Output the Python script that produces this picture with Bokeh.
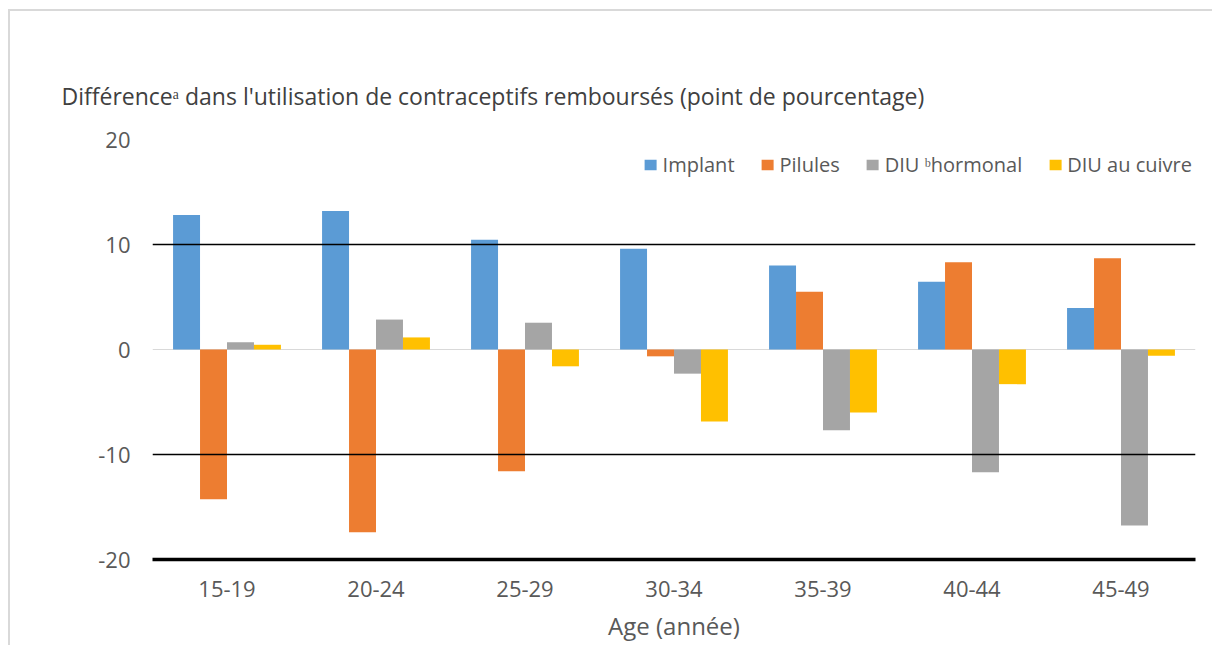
from bokeh.plotting import figure
from bokeh.models import FactorRange, Range1d, FixedTicker, Span, Legend, LegendItem, ColumnDataSource, Title
from bokeh.transform import dodge
from bokeh.embed import file_html
from bokeh.resources import INLINE

ages = ["15-19", "20-24", "25-29", "30-34", "35-39", "40-44", "45-49"]
implant = [12.8, 13.2, 10.45, 9.6, 8.0, 6.45, 3.95]
pilules = [-14.25, -17.4, -11.6, -0.65, 5.5, 8.3, 8.7]
diu_hormonal = [0.7, 2.85, 2.55, -2.3, -7.7, -11.7, -16.75]
diu_cuivre = [0.45, 1.15, -1.6, -6.85, -6.0, -3.3, -0.6]
series_names = ["Implant", "Pilules", "DIU \u1d47hormonal", "DIU au cuivre"]
y_ticks = [-20, -10, 0, 10, 20]
y_tick_labels = {-20: "-20", -10: "-10", 0: "0", 10: "10", 20: "20"}

title_text = "Diff\u00e9rence\u1d43 dans l'utilisation de contraceptifs rembours\u00e9s (point de pourcentage)"
x_label = "Age (ann\u00e9e)"

FONT = "Open Sans"
TXT = "#595959"
colors = ["#5B9BD5", "#ED7D31", "#A5A5A5", "#FFC000"]

src = ColumnDataSource(dict(age=ages, implant=implant, pilules=pilules,
                            diu_h=diu_hormonal, diu_c=diu_cuivre))

p = figure(x_range=FactorRange(factors=ages), y_range=Range1d(-20, 20),
           width=1204, height=636, output_backend="svg", toolbar_location=None,
           min_border_left=142, min_border_right=19, min_border_top=128,
           min_border_bottom=88)
p.styles = {"margin-left": "8px", "margin-top": "9px",
            "border-top": "2px solid #d9d9d9", "border-left": "2px solid #d9d9d9"}
p.outline_line_color = None
p.background_fill_color = "white"
p.border_fill_color = "white"

p.title = Title(text=title_text, align="left", offset=-91, standoff=55,
                text_font_size="23px", text_font=FONT, text_color="#404040",
                text_font_style="normal")

w = 0.181
offs = [-1.5 * w, -0.5 * w, 0.5 * w, 1.5 * w]
fields = ["implant", "pilules", "diu_h", "diu_c"]
renderers = []
for f, o, c in zip(fields, offs, colors):
    r = p.vbar(x=dodge("age", o, range=p.x_range), top=f, bottom=0, width=w,
               source=src, fill_color=c, line_color=None)
    renderers.append(r)

legend = Legend(items=[LegendItem(label=n, renderers=[r]) for n, r in zip(series_names, renderers)],
                orientation="horizontal", location="top_right")
legend.label_text_font = FONT
legend.label_text_font_size = "20px"
legend.label_text_color = TXT
legend.glyph_width = 15
legend.glyph_height = 13
legend.label_height = 44
legend.label_standoff = 5
legend.spacing = 25
legend.padding = 3
legend.margin = 3
legend.border_line_color = None
legend.background_fill_alpha = 0
p.add_layout(legend)

p.ygrid.ticker = FixedTicker(ticks=y_ticks)
p.ygrid.grid_line_color = "#d9d9d9"
p.ygrid.grid_line_width = 1
p.xgrid.grid_line_color = None

for yv in [10, -10]:
    p.add_layout(Span(location=yv, dimension="width", line_color="black", line_width=1.5))

p.yaxis.ticker = FixedTicker(ticks=y_ticks)
p.yaxis.major_label_overrides = y_tick_labels
p.yaxis.axis_line_color = None
p.yaxis.major_tick_line_color = None
p.yaxis.minor_tick_line_color = None
p.yaxis.major_tick_out = 0
p.yaxis.major_tick_in = 0
p.yaxis.minor_tick_out = 0
p.yaxis.major_label_standoff = 22
p.yaxis.major_label_text_font = FONT
p.yaxis.major_label_text_font_size = "22px"
p.yaxis.major_label_text_color = TXT

p.xaxis.axis_line_color = "black"
p.xaxis.axis_line_width = 3.5
p.xaxis.major_tick_line_color = None
p.xaxis.minor_tick_line_color = None
p.xaxis.major_tick_out = 0
p.xaxis.major_tick_in = 0
p.xaxis.major_label_standoff = 21
p.xaxis.major_label_text_font = FONT
p.xaxis.major_label_text_font_size = "22px"
p.xaxis.major_label_text_color = TXT
p.xaxis.axis_label = x_label
p.xaxis.axis_label_text_font = FONT
p.xaxis.axis_label_text_font_size = "24px"
p.xaxis.axis_label_text_font_style = "normal"
p.xaxis.axis_label_text_color = TXT
p.xaxis.axis_label_standoff = 9

open("out.html", "w").write(file_html(p, INLINE))
